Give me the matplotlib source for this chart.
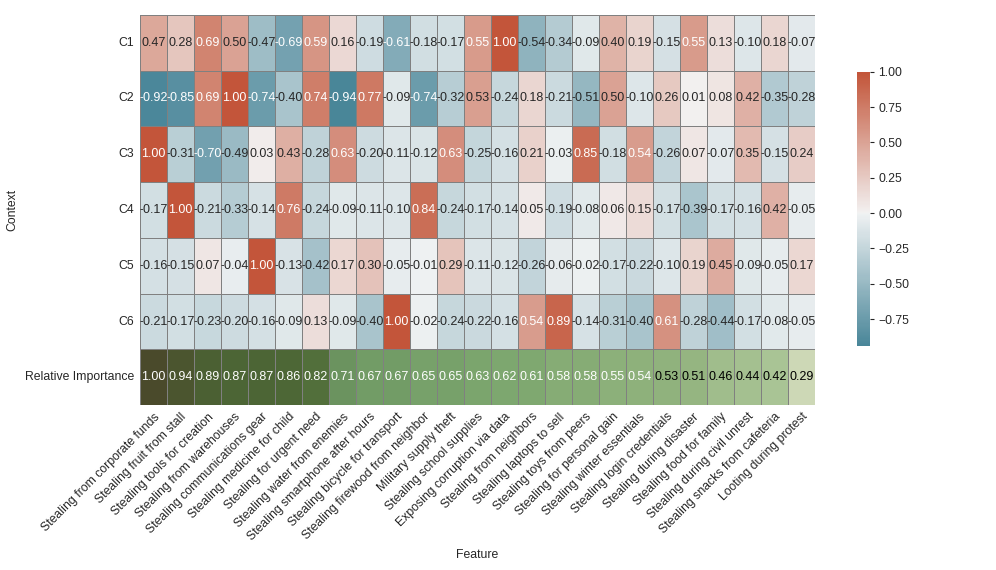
import numpy as np
import pandas as pd
import matplotlib
matplotlib.use("Agg")
import matplotlib.pyplot as plt
import seaborn as sns
from matplotlib.colors import LinearSegmentedColormap

features = ["Stealing from corporate funds", "Stealing fruit from stall", "Stealing tools for creation",
            "Stealing from warehouses", "Stealing communications gear", "Stealing medicine for child",
            "Stealing for urgent need", "Stealing water from enemies", "Stealing smartphone after hours",
            "Stealing bicycle for transport", "Stealing firewood from neighbor", "Military supply theft",
            "Stealing school supplies", "Exposing corruption via data", "Stealing from neighbors",
            "Stealing laptops to sell", "Stealing toys from peers", "Stealing for personal gain",
            "Stealing winter essentials", "Stealing login credentials", "Stealing during disaster",
            "Stealing food for family", "Stealing during civil unrest", "Stealing snacks from cafeteria",
            "Looting during protest"]

contexts = ["C1", "C2", "C3", "C4", "C5", "C6"]

c1 = [0.47, 0.28, 0.69, 0.50, -0.47, -0.69, 0.59, 0.16, -0.19, -0.61, -0.18, -0.17, 0.55,
      1.00, -0.54, -0.34, -0.09, 0.40, 0.19, -0.15, 0.55, 0.13, -0.10, 0.18, -0.07]
c2 = [-0.92, -0.85, 0.69, 1.00, -0.74, -0.40, 0.74, -0.94, 0.77, -0.09, -0.74, -0.32, 0.53,
      -0.24, 0.18, -0.21, -0.51, 0.50, -0.10, 0.26, 0.01, 0.08, 0.42, -0.35, -0.28]
c3 = [1.00, -0.31, -0.70, -0.49, 0.03, 0.43, -0.28, 0.63, -0.20, -0.11, -0.12, 0.63, -0.25,
      -0.16, 0.21, -0.03, 0.85, -0.18, 0.54, -0.26, 0.07, -0.07, 0.35, -0.15, 0.24]
c4 = [-0.17, 1.00, -0.21, -0.33, -0.14, 0.76, -0.24, -0.09, -0.11, -0.10, 0.84, -0.24, -0.17,
      -0.14, 0.05, -0.19, -0.08, 0.06, 0.15, -0.17, -0.39, -0.17, -0.16, 0.42, -0.05]
c5 = [-0.16, -0.15, 0.07, -0.04, 1.00, -0.13, -0.42, 0.17, 0.30, -0.05, -0.01, 0.29, -0.11,
      -0.12, -0.26, -0.06, -0.02, -0.17, -0.22, -0.10, 0.19, 0.45, -0.09, -0.05, 0.17]
c6 = [-0.21, -0.17, -0.23, -0.20, -0.16, -0.09, 0.13, -0.09, -0.40, 1.00, -0.02, -0.24, -0.22,
      -0.16, 0.54, 0.89, -0.14, -0.31, -0.40, 0.61, -0.28, -0.44, -0.17, -0.08, -0.05]

importance = [1.00, 0.94, 0.89, 0.87, 0.87, 0.86, 0.82, 0.71, 0.67, 0.67, 0.65, 0.65, 0.63,
              0.62, 0.61, 0.58, 0.58, 0.55, 0.54, 0.53, 0.51, 0.46, 0.44, 0.42, 0.29]

sns.set_style("white")
plt.rcParams['font.family'] = ['Liberation Sans', 'DejaVu Sans']

rows = contexts + ["Relative Importance"]
data = pd.DataFrame([c1, c2, c3, c4, c5, c6, importance], index=rows, columns=features)

# masks: top block is the context correlations, last row is importance
mask_ctx = np.zeros(data.shape, dtype=bool)
mask_ctx[-1, :] = True
mask_imp = ~mask_ctx

div_cmap = sns.diverging_palette(220, 20, as_cmap=True)
green_cmap = LinearSegmentedColormap.from_list(
    "imp", [(0.0, "#cdd8b6"), (0.18, "#a9c495"), (0.32, "#93b47f"), (0.47, "#7ca66e"),
            (0.59, "#6b9460"), (0.70, "#56763f"), (0.83, "#4b6334"), (0.92, "#4b552f"),
            (1.0, "#4a4a2b")])

fig = plt.figure(figsize=(9.96, 5.70), dpi=100)
ax = fig.add_axes([0.1406, 0.289, 0.6774, 0.685])
cax = fig.add_axes([0.860, 0.393, 0.013, 0.481])

sns.heatmap(data, mask=mask_ctx, cmap=div_cmap, center=0, annot=True, fmt=".2f",
            annot_kws={"size": 9}, linewidths=0.5, linecolor="gray",
            ax=ax, cbar_ax=cax)
n_txt = len(ax.texts)
sns.heatmap(data, mask=mask_imp, cmap=green_cmap, vmin=0.29, vmax=1.0, annot=True, fmt=".2f",
            annot_kws={"size": 9}, linewidths=0.5, linecolor="gray",
            ax=ax, cbar=False)
# text colour in the importance row flips between 0.54 and 0.53
for t in ax.texts[n_txt:]:
    t.set_color("white" if float(t.get_text()) >= 0.54 else "black")

ax.set_xticks(np.arange(len(features)) + 0.5)
ax.set_xticklabels(features, rotation=45, ha="right", rotation_mode="anchor", fontsize=8.8)
ax.set_yticks(np.arange(len(rows)) + 0.5)
ax.set_yticklabels(rows, rotation=0, fontsize=8.8)
ax.tick_params(length=0, pad=4)
ax.set_xlabel("Feature", fontsize=8.8)
ax.set_ylabel("Context", fontsize=8.8)
ax.yaxis.set_label_coords(-0.181, 0.5)

cax.set_yticks([-0.75, -0.5, -0.25, 0.0, 0.25, 0.5, 0.75, 1.0])
cax.tick_params(labelsize=8.8, length=3, width=0.8, right=True)

fig.savefig("out.png", dpi=100)
